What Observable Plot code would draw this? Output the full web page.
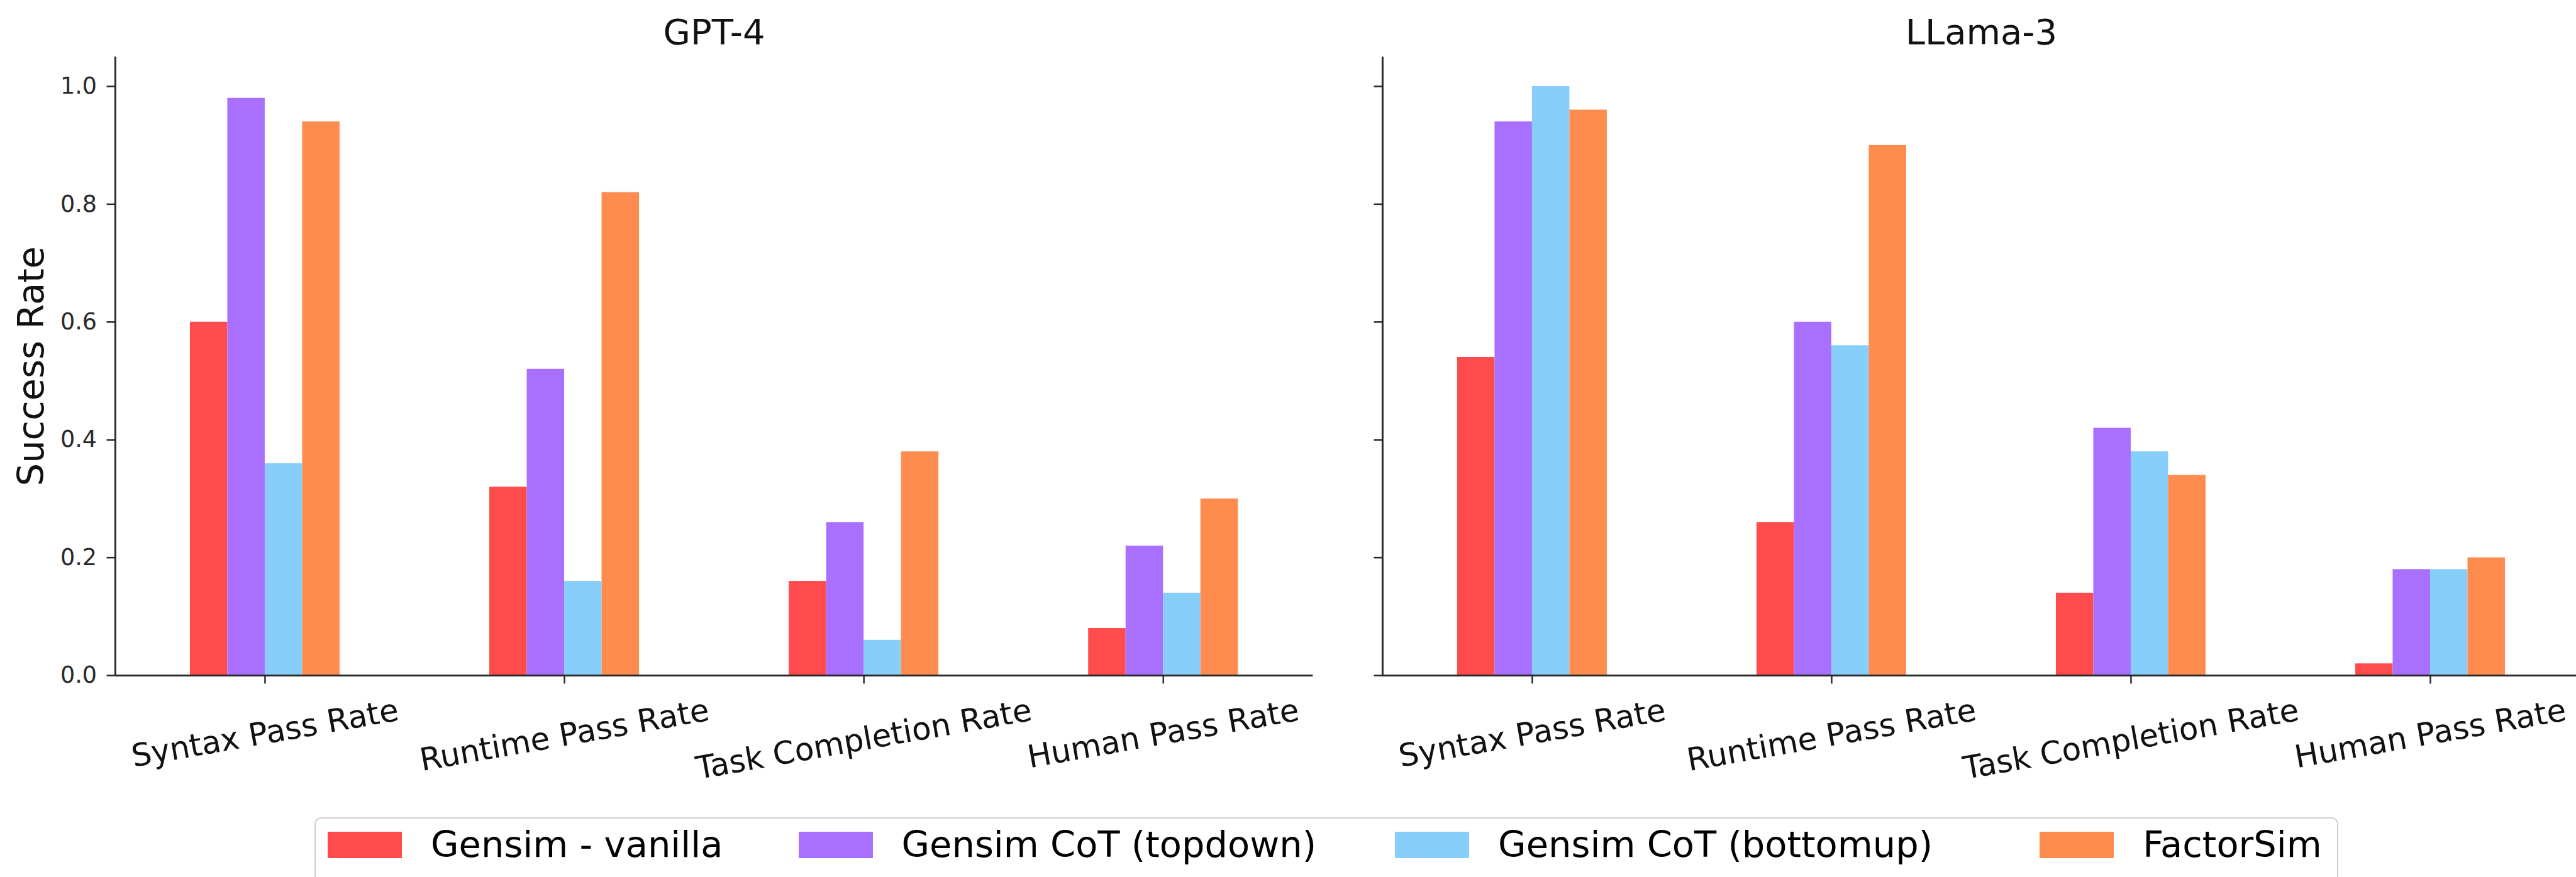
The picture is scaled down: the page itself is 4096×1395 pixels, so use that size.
<!DOCTYPE html>
<html>
<head>
<meta charset="utf-8">
<script src="https://cdn.jsdelivr.net/npm/d3@7"></script>
<script src="https://cdn.jsdelivr.net/npm/@observablehq/plot@0.6"></script>
<style>
  html, body { margin: 0; padding: 0; background: #fff; overflow: hidden; }
  #root { position: relative; width: 4096px; height: 1395px; overflow: hidden; font-family: "DejaVu Sans", sans-serif; background: #fff; }
  .panel { position: absolute; top: 0; }
  #legend {
    position: absolute; left: 500px; top: 1300px; height: 140px;
    border: 2.5px solid #cfcfcf; border-radius: 11px; background: #fff;
    box-sizing: border-box; padding: 20px 24px 0 19px;
    display: flex; align-items: flex-start;
    font-family: "DejaVu Sans", sans-serif; font-size: 57.5px; color: #000;
  }
  .item { display: flex; align-items: center; height: 44px; }
  .sw { width: 118px; height: 42px; margin-right: 46px; flex: none; }
  .lbl { white-space: nowrap; line-height: 1; }
</style>
</head>
<body>
<div id="root"></div>
<script>
// ---- data ----
const models = ["GPT-4", "LLama-3"];
const categories = ["Syntax Pass Rate", "Runtime Pass Rate", "Task Completion Rate", "Human Pass Rate"];
const seriesNames = ["Gensim - vanilla", "Gensim CoT (topdown)", "Gensim CoT (bottomup)", "FactorSim"];
const seriesColors = ["#FF4B4B", "#A970FF", "#87CEFA", "#FF8C4F"];
const yTicks = [0.0, 0.2, 0.4, 0.6, 0.8, 1.0];

const gpt4Vanilla   = [0.60, 0.32, 0.16, 0.08];
const gpt4TopDown   = [0.98, 0.52, 0.26, 0.22];
const gpt4BottomUp  = [0.36, 0.16, 0.06, 0.14];
const gpt4FactorSim = [0.94, 0.82, 0.38, 0.30];

const llamaVanilla   = [0.54, 0.26, 0.14, 0.02];
const llamaTopDown   = [0.94, 0.60, 0.42, 0.18];
const llamaBottomUp  = [1.00, 0.56, 0.38, 0.18];
const llamaFactorSim = [0.96, 0.90, 0.34, 0.20];

// ---- build tables ----
function rowsFor(seriesArrays) {
  return seriesArrays.flatMap((arr, si) =>
    arr.map((v, ci) => ({cat: categories[ci], ci, series: seriesNames[si], si, value: v})));
}
const gptRows = rowsFor([gpt4Vanilla, gpt4TopDown, gpt4BottomUp, gpt4FactorSim]);
const llamaRows = rowsFor([llamaVanilla, llamaTopDown, llamaBottomUp, llamaFactorSim]);
const catRows = categories.map((c, i) => ({cat: c, ci: i}));

// ---- style ----
const FONT = "DejaVu Sans";
const axisColor = "#2a2a2a";
const groupW = 0.5;
const barW = groupW / seriesNames.length;
const xFont = 50;
const rot = -10;
const H = 1250, marginTop = 90.1, marginBottom = H - 1074;
const legendGaps = [120, 125, 170];

const ctx = document.createElement("canvas").getContext("2d");
ctx.font = `${xFont}px "${FONT}"`;
function labelDy(text) {
  const L = ctx.measureText(text).width;
  const s = Math.sin(Math.abs(rot) * Math.PI / 180);
  const inkTop = 1109 - 1074;
  return inkTop + (L / 2) * s + 0.404 * xFont;
}

function drawPanel(model, rows, {left, width, marginLeft, marginRight, yLabels, yTitle}) {
  const marks = [
    Plot.rect(rows, {
      x1: d => d.ci - groupW / 2 + d.si * barW,
      x2: d => d.ci - groupW / 2 + (d.si + 1) * barW,
      y1: 0, y2: "value", fill: "series"
    }),
    Plot.ruleX([-0.5], {stroke: axisColor, strokeWidth: 3}),
    Plot.ruleY([0], {stroke: axisColor, strokeWidth: 3}),
    Plot.axisY({
      ticks: yTicks, tickSize: 13.4, tickPadding: 16,
      tickFormat: yLabels ? d3.format(".1f") : () => "",
      fontSize: 36.5, color: axisColor, strokeWidth: 2.5, label: null
    }),
    Plot.axisX({
      ticks: catRows.map(d => d.ci), tickSize: 13.4, tickFormat: () => "",
      color: axisColor, strokeWidth: 2.5, label: null
    }),
    ...catRows.map(r => Plot.text([r], {
      x: "ci", text: "cat", frameAnchor: "bottom", dy: labelDy(r.cat),
      rotate: rot, textAnchor: "middle", lineAnchor: "middle",
      fontSize: xFont, fill: "#111"
    })),
    Plot.text([model], {
      text: d => d, frameAnchor: "top", lineAnchor: "bottom", dy: -20.4,
      fontSize: 56, fill: "#111"
    })
  ];
  if (yTitle) {
    marks.push(Plot.text([yTitle], {
      text: d => d, frameAnchor: "left", rotate: -90, dx: -132.5,
      textAnchor: "middle", lineAnchor: "middle", fontSize: 57.5, fill: "#111"
    }));
  }
  const svg = Plot.plot({
    width, height: H, marginLeft, marginRight, marginTop, marginBottom,
    style: {fontFamily: FONT, background: "transparent", overflow: "visible", maxWidth: "none"},
    x: {type: "linear", domain: [-0.5, categories.length - 0.5], axis: null},
    y: {domain: [0, 1.05], axis: null},
    color: {domain: seriesNames, range: seriesColors},
    marks
  });
  const div = document.createElement("div");
  div.className = "panel";
  div.style.left = left + "px";
  div.style.width = width + "px";
  div.appendChild(svg);
  document.getElementById("root").appendChild(div);
}

drawPanel(models[0], gptRows, {left: 0, width: 2197, marginLeft: 182.9, marginRight: 2197 - 2087.3, yLabels: true, yTitle: "Success Rate"});
drawPanel(models[1], llamaRows, {left: 2100, width: 2010, marginLeft: 97.9, marginRight: 8, yLabels: false, yTitle: null});

// ---- legend ----
const legend = document.createElement("div");
legend.id = "legend";
seriesNames.forEach((name, i) => {
  const item = document.createElement("div");
  item.className = "item";
  if (i < legendGaps.length) item.style.marginRight = legendGaps[i] + "px";
  const sw = document.createElement("div");
  sw.className = "sw";
  sw.style.background = seriesColors[i];
  const lbl = document.createElement("span");
  lbl.className = "lbl";
  lbl.textContent = name;
  item.appendChild(sw);
  item.appendChild(lbl);
  legend.appendChild(item);
});
document.getElementById("root").appendChild(legend);
</script>
</body>
</html>
